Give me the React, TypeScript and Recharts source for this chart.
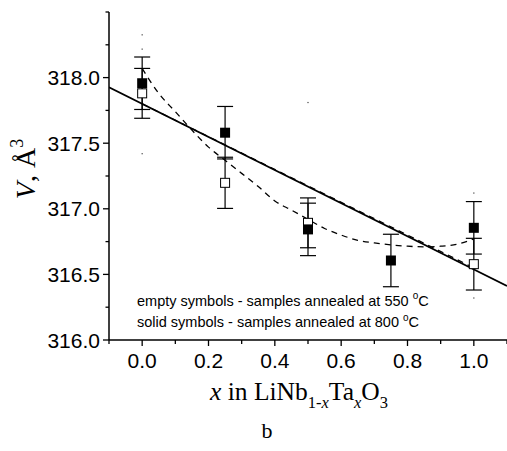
import React from 'react';
import { ComposedChart, XAxis, YAxis, Scatter, Line, ErrorBar } from 'recharts';

// ---- data ----
const solidX = [0, 0.25, 0.5, 0.75, 1.0];
const solidY = [317.957, 317.58, 316.843, 316.606, 316.855];
const solidErr = [0.2, 0.2, 0.2, 0.2, 0.2];

const emptyX = [0, 0.25, 0.5, 1.0];
const emptyY = [317.88, 317.198, 316.893, 316.578];
const emptyErr = [0.19, 0.195, 0.19, 0.197];

const strayX = [0, 0, 0, 0.5, 1.0, 1.0];
const strayY = [318.326, 318.217, 317.42, 317.81, 317.12, 316.32];

const curveX = [0, 0.05, 0.1, 0.15, 0.2, 0.25, 0.3, 0.35, 0.4, 0.45, 0.5, 0.55, 0.6, 0.65, 0.7, 0.75, 0.8, 0.85, 0.9, 0.95, 1.0];
const curveY = [318.07, 317.88, 317.74, 317.6, 317.47, 317.37, 317.27, 317.17, 317.06, 316.99, 316.92, 316.85, 316.8, 316.76, 316.74, 316.725, 316.715, 316.71, 316.715, 316.73, 316.77];

const fitX = [-0.1, 1.1];
const fitY = [317.926, 316.412];

const fit2X = [0, 1.0];
const fit2Y = [317.8, 316.55];

const xTicks = [-0.1, 0, 0.1, 0.2, 0.3, 0.4, 0.5, 0.6, 0.7, 0.8, 0.9, 1.0, 1.1];
const xMajor = [0, 0.2, 0.4, 0.6, 0.8, 1.0];
const yTicks = [316, 316.25, 316.5, 316.75, 317, 317.25, 317.5, 317.75, 318, 318.25, 318.5];
const yMajor = [316, 316.5, 317, 317.5, 318];

const legendLines = [
  ['empty symbols - samples annealed at 550 ', 'o', 'C'],
  ['solid symbols - samples annealed at 800 ', 'o', 'C'],
];
const panelLetter = 'b';

// ---- build tables ----
const solidData = solidX.map((x, i) => ({ x, y: solidY[i], err: solidErr[i] }));
const emptyData = emptyX.map((x, i) => ({ x, y: emptyY[i], err: emptyErr[i] }));
const strayData = strayX.map((x, i) => ({ x, y: strayY[i] }));
const curveData = curveX.map((x, i) => ({ x, y: curveY[i] }));
const fitData = fitX.map((x, i) => ({ x, y: fitY[i] }));
const fit2Data = fit2X.map((x, i) => ({ x, y: fit2Y[i] }));

const SANS = '"Liberation Sans", Arial, sans-serif';
const SERIF = '"Liberation Serif", "Times New Roman", serif';

const isIn = (arr: number[], v: number) => arr.some((m) => Math.abs(m - v) < 1e-6);

const XTick = (props: any) => {
  const { x, y, payload } = props;
  const v = payload.value;
  const major = isIn(xMajor, v);
  return (
    <g>
      <line x1={x} x2={x} y1={y} y2={y + (major ? 6 : 4)} stroke="#000" strokeWidth={1.3} />
      {major && (
        <text x={x} y={y + 28} textAnchor="middle" fontFamily={SANS} fontSize={21} fill="#000">
          {v.toFixed(1)}
        </text>
      )}
    </g>
  );
};

const YTick = (props: any) => {
  const { x, y, payload } = props;
  const v = payload.value;
  const major = isIn(yMajor, v);
  return (
    <g>
      <line x1={x - (major ? 6 : 3.5)} x2={x} y1={y} y2={y} stroke="#000" strokeWidth={1.3} />
      {major && (
        <text x={x - 9} y={y + 7.5} textAnchor="end" fontFamily={SANS} fontSize={21} fill="#000">
          {v.toFixed(1)}
        </text>
      )}
    </g>
  );
};

const SolidSquare = (props: any) => {
  const { cx, cy } = props;
  return <rect x={cx - 5} y={cy - 5} width={10} height={10} fill="#000" />;
};
const EmptySquare = (props: any) => {
  const { cx, cy } = props;
  return <rect x={cx - 4.5} y={cy - 4.5} width={9} height={9} fill="#fff" stroke="#000" strokeWidth={1} />;
};
const Dot = (props: any) => {
  const { cx, cy } = props;
  return <rect x={cx - 0.6} y={cy - 0.6} width={1.2} height={1.2} fill="#444" />;
};

const XTitle = () => (
  <text x={299} y={400} textAnchor="middle" fontFamily={SERIF} fontSize={25.5} fill="#000">
    <tspan fontStyle="italic">x</tspan>
    <tspan> in LiNb</tspan>
    <tspan fontSize={16.5} dy={7.5}>1-</tspan>
    <tspan fontSize={16.5} fontStyle="italic">x</tspan>
    <tspan dy={-7.5}>Ta</tspan>
    <tspan fontSize={16.5} fontStyle="italic" dy={7.5}>x</tspan>
    <tspan dy={-7.5}>O</tspan>
    <tspan fontSize={16.5} dy={7.5}>3</tspan>
  </text>
);

const YTitle = () => (
  <text transform="translate(35,169) rotate(-90)" textAnchor="middle" fontFamily={SERIF} fontSize={28} fill="#000">
    <tspan fontStyle="italic">V</tspan>
    <tspan>, Å</tspan>
    <tspan fontSize={18} dy={-12}>3</tspan>
  </text>
);

export default function App() {
  return (
    <div style={{ position: 'absolute', left: 0, top: 0, width: 507, height: 451, background: '#fff' }}>
      <ComposedChart width={507} height={451} margin={{ top: 12, right: 0, bottom: 81, left: 0 }}>
        <XAxis
          dataKey="x"
          type="number"
          domain={[-0.1, 1.1]}
          allowDataOverflow
          ticks={xTicks}
          interval={0}
          tick={<XTick />}
          tickLine={false}
          tickSize={0}
          tickMargin={0}
          height={30}
          axisLine={{ stroke: '#000', strokeWidth: 1.5 }}
          label={{ content: () => <XTitle /> }}
        />
        <XAxis
          xAxisId="top"
          orientation="top"
          type="number"
          domain={[-0.1, 1.1]}
          allowDataOverflow
          tick={false}
          tickLine={false}
          height={0}
          axisLine={{ stroke: '#000', strokeWidth: 2 }}
        />
        <YAxis
          dataKey="y"
          type="number"
          domain={[316, 318.5]}
          allowDataOverflow
          ticks={yTicks}
          interval={0}
          tick={<YTick />}
          tickLine={false}
          tickSize={0}
          tickMargin={0}
          width={109}
          axisLine={{ stroke: '#000', strokeWidth: 1.5 }}
          label={{ content: () => <YTitle /> }}
        />
        <Line data={fitData} dataKey="y" type="linear" dot={false} stroke="#000" strokeWidth={1.8} isAnimationActive={false} />
        <Line data={fit2Data} dataKey="y" type="linear" dot={false} stroke="#000" strokeWidth={1.2} strokeDasharray="6 5" isAnimationActive={false} />
        <Line data={curveData} dataKey="y" type="monotone" dot={false} stroke="#000" strokeWidth={1.3} strokeDasharray="6 5" isAnimationActive={false} />
        <Scatter data={strayData} shape={<Dot />} isAnimationActive={false} />
        <Scatter data={emptyData} shape={<EmptySquare />} isAnimationActive={false}>
          <ErrorBar dataKey="err" direction="y" width={8} stroke="#000" strokeWidth={1.2} />
        </Scatter>
        <Scatter data={solidData} shape={<SolidSquare />} isAnimationActive={false}>
          <ErrorBar dataKey="err" direction="y" width={8} stroke="#000" strokeWidth={1.2} />
        </Scatter>
      </ComposedChart>
      <svg width={507} height={451} style={{ position: 'absolute', left: 0, top: 0, pointerEvents: 'none' }}>
        {legendLines.map((ln, i) => (
          <text key={i} x={137} y={305.5 + i * 21.7} fontFamily={SANS} fontSize={14.5} fill="#000">
            {ln[0]}
            <tspan fontSize={10} dy={-6.5}>{ln[1]}</tspan>
            <tspan dy={6.5}>{ln[2]}</tspan>
          </text>
        ))}
        <text x={267} y={438} textAnchor="middle" fontFamily={SERIF} fontSize={22} fill="#000">
          {panelLetter}
        </text>
      </svg>
    </div>
  );
}
